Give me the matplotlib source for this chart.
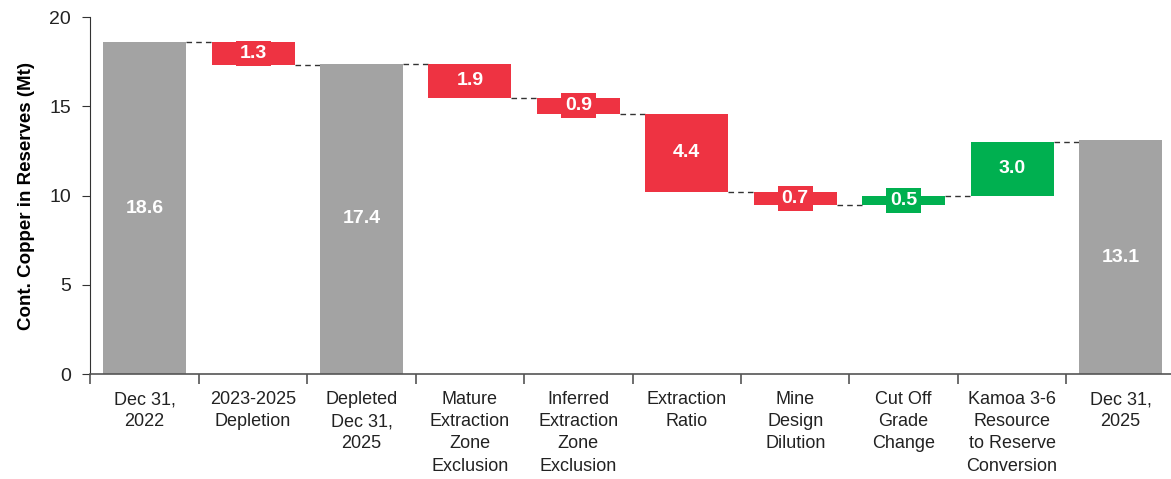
import matplotlib
matplotlib.use("Agg")
import matplotlib.pyplot as plt

categories = ["Dec 31,\n2022", "2023-2025\nDepletion", "Depleted\nDec 31,\n2025",
              "Mature\nExtraction\nZone\nExclusion", "Inferred\nExtraction\nZone\nExclusion",
              "Extraction\nRatio", "Mine\nDesign\nDilution", "Cut Off\nGrade\nChange",
              "Kamoa 3-6\nResource\nto Reserve\nConversion", "Dec 31,\n2025"]
values = [18.6, -1.3, 17.4, -1.9, -0.9, -4.4, -0.7, 0.5, 3.0, 13.1]
is_total = [True, False, True, False, False, False, False, False, False, True]

GREY = "#A3A3A3"
RED = "#EE3342"
GREEN = "#00B050"

plt.rcParams['font.family'] = ['Liberation Sans', 'DejaVu Sans']

fig = plt.figure(figsize=(11.71, 4.79), dpi=100)
ax = fig.add_axes([0.0772, 0.219, 0.926, 0.745])

width = 0.766
running = 0
levels = []
for i, (v, tot) in enumerate(zip(values, is_total)):
    if tot:
        bottom, top = 0, v
        color = GREY
        running = v
    else:
        start = running
        running = start + v
        bottom, top = min(start, running), max(start, running)
        color = RED if v < 0 else GREEN
    ax.bar(i, top - bottom, bottom=bottom, width=width, color=color, zorder=2)
    txt = f"{abs(v):.1f}"
    box = None if tot else dict(boxstyle="square,pad=0.2", fc=color, ec="none")
    ax.text(i, (bottom + top) / 2, txt, ha="center", va="center", color="white",
            fontsize=14, fontweight="bold", zorder=3, bbox=box)
    levels.append(running)

# dashed connectors between bars
for i in range(len(values) - 1):
    ax.plot([i + width / 2, i + 1 - width / 2], [levels[i], levels[i]],
            color="#333333", lw=1, ls=(0, (4, 3)), zorder=1)

ax.set_xlim(-0.5, len(values) - 0.5)
ax.set_ylim(0, 20)
ax.set_yticks([0, 5, 10, 15, 20])
ax.tick_params(axis="y", labelsize=14, length=6, pad=8, color="#333333", labelcolor="#222222")
ax.set_xticks([i + 0.5 for i in range(-1, len(values))])
ax.set_xticklabels([])
ax.tick_params(axis="x", length=7, color="#555555", width=1.2)
for i, c in enumerate(categories):
    ax.text(i, -0.95, c, ha="center", va="top", fontsize=13, color="#222222",
            linespacing=1.4)

ax.set_ylabel("Cont. Copper in Reserves (Mt)", fontsize=13.5, fontweight="bold", labelpad=10)
ax.spines["top"].set_visible(False)
ax.spines["right"].set_visible(False)
ax.spines["left"].set_color("#333333")
ax.spines["bottom"].set_color("#555555")
ax.spines["bottom"].set_linewidth(1.2)

fig.savefig("out.png", dpi=100)
